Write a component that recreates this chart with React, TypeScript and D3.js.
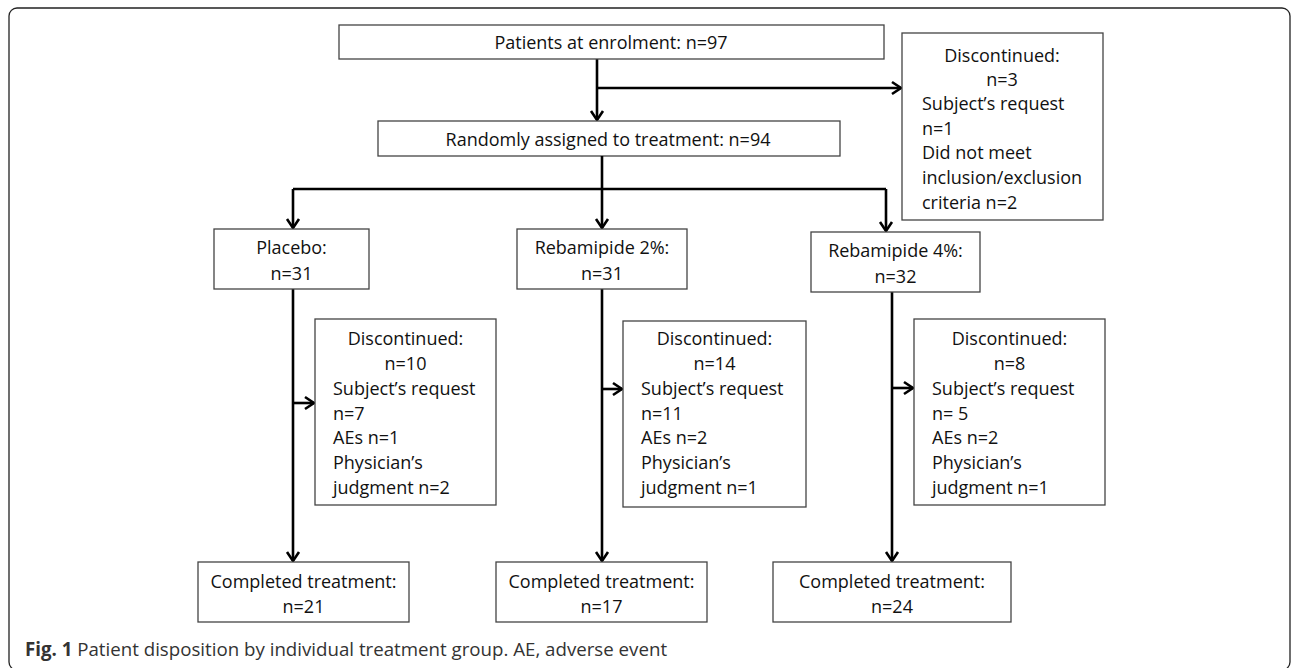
import React, { useEffect, useRef } from 'react';
import * as d3 from 'd3';

// flow counts
const enrolled = 97;
const randomized = 94;
const screenOut = 3;
const screenOutLines = ['Subject\u2019s request', 'n=1', 'Did not meet', 'inclusion/exclusion', 'criteria n=2'];

const groups = ['Placebo', 'Rebamipide 2%', 'Rebamipide 4%'];
const groupN = [31, 31, 32];
const discontinuedN = [10, 14, 8];
const subjectRequestN = ['n=7', 'n=11', 'n= 5'];
const aeN = [1, 2, 2];
const physicianN = [2, 1, 1];
const completedN = [21, 17, 24];

const caption = 'Patient disposition by individual treatment group. AE, adverse event';

const FONT = '"Open Sans", "Noto Sans", sans-serif';

export default function App() {
  const ref = useRef<SVGSVGElement>(null);

  useEffect(() => {
    document.body.style.margin = '0';
    if (!ref.current) return;
    const svg = d3.select(ref.current);
    svg.selectAll('*').remove();

    // column positions for the three arms
    const colX = d3.scaleOrdinal<string, number>().domain(groups).range([293, 602, 892]);
    const groupBox = d3.scaleOrdinal<string, [number, number]>().domain(groups).range([[214, 369], [517, 687], [811, 980]]);
    const doneBox = d3.scaleOrdinal<string, [number, number]>().domain(groups).range([[198, 409], [496, 707], [773, 1011]]);
    const discBox = d3.scaleOrdinal<string, [number, number]>().domain(groups).range([[315, 496], [623, 806], [914, 1105]]);
    const discArrowY = d3.scaleOrdinal<string, number>().domain(groups).range([403, 389, 388]);
    const groupTop = d3.scaleOrdinal<string, number>().domain(groups).range([229, 229, 232]);

    const lineH = 24.7;

    // outer frame
    svg.append('rect')
      .attr('x', 9).attr('y', 8).attr('width', 1281).attr('height', 662)
      .attr('rx', 8).attr('fill', 'none').attr('stroke', '#222').attr('stroke-width', 1.3);

    const box = (x0: number, y0: number, x1: number, y1: number) =>
      svg.append('rect')
        .attr('x', x0).attr('y', y0).attr('width', x1 - x0).attr('height', y1 - y0)
        .attr('fill', '#fff').attr('stroke', '#444').attr('stroke-width', 1.3);

    const text = (t: string, x: number, y: number, anchor = 'middle') =>
      svg.append('text')
        .attr('x', x).attr('y', y)
        .attr('text-anchor', anchor)
        .attr('dominant-baseline', 'central')
        .attr('font-family', FONT).attr('font-size', 18).attr('fill', '#111')
        .text(t);

    const line = (pts: [number, number][]) =>
      svg.append('path')
        .attr('d', d3.line()(pts) as string)
        .attr('fill', 'none').attr('stroke', '#000').attr('stroke-width', 2.6);

    const arrowDown = (x: number, y: number) =>
      line([[x - 6, y - 9], [x, y], [x + 6, y - 9]]).attr('stroke-linejoin', 'miter');
    const arrowRight = (x: number, y: number) =>
      line([[x - 9, y - 6], [x, y], [x - 9, y + 6]]).attr('stroke-linejoin', 'miter');

    // top section
    line([[597, 59], [597, 120]]);
    arrowDown(597, 120);
    line([[597, 88], [901, 88]]);
    arrowRight(901, 88);

    box(339, 25, 884, 59);
    text(`Patients at enrolment: n=${enrolled}`, 611, 42);

    box(378, 121, 840, 156);
    text(`Randomly assigned to treatment: n=${randomized}`, 608, 139);

    box(902, 33, 1103, 220);
    text('Discontinued:', 1002, 55);
    text(`n=${screenOut}`, 1002, 79);
    screenOutLines.forEach((t, i) => text(t, 922, 103 + i * lineH, 'start'));

    // split to arms
    line([[602, 156], [602, 189]]);
    line([[colX(groups[0]), 189], [886, 189]]);
    groups.forEach(g => {
      const x = g === groups[2] ? 886 : colX(g);
      line([[x, 189], [x, groupTop(g) - 1]]);
      arrowDown(x, groupTop(g) - 1);
    });

    groups.forEach((g, i) => {
      const [gx0, gx1] = groupBox(g);
      const gTop = groupTop(g);
      const x = colX(g);

      // main trunk
      line([[x, gTop + 58], [x, 561]]);
      arrowDown(x, 561);
      line([[x, discArrowY(g)], [discBox(g)[0] - 1, discArrowY(g)]]);
      arrowRight(discBox(g)[0] - 1, discArrowY(g));

      box(gx0, gTop, gx1, gTop + 60);
      text(`${g}:`, (gx0 + gx1) / 2, gTop + 18);
      text(`n=${groupN[i]}`, (gx0 + gx1) / 2, gTop + 44);

      const [dx0, dx1] = discBox(g);
      const dTop = i === 1 ? 321 : 319;
      box(dx0, dTop, dx1, dTop + 186);
      const cx = (dx0 + dx1) / 2;
      text('Discontinued:', cx, 338);
      text(`n=${discontinuedN[i]}`, cx, 363);
      const lines = [
        'Subject\u2019s request',
        subjectRequestN[i],
        `AEs n=${aeN[i]}`,
        'Physician\u2019s',
        `judgment n=${physicianN[i]}`,
      ];
      lines.forEach((t, j) => text(t, dx0 + 18, 388 + j * lineH, 'start'));

      const [cx0, cx1] = doneBox(g);
      box(cx0, 562, cx1, 622);
      text('Completed treatment:', (cx0 + cx1) / 2, 581);
      text(`n=${completedN[i]}`, (cx0 + cx1) / 2, 606);
    });

    // caption
    const cap = svg.append('text')
      .attr('x', 25).attr('y', 648)
      .attr('dominant-baseline', 'central')
      .attr('font-family', FONT).attr('font-size', 18.7).attr('fill', '#333');
    cap.append('tspan').attr('font-weight', 700).text('Fig. 1');
    cap.append('tspan').text(' ' + caption);
  }, []);

  return <svg ref={ref} width={1292} height={668} style={{ display: 'block', background: '#fff' }} />;
}
